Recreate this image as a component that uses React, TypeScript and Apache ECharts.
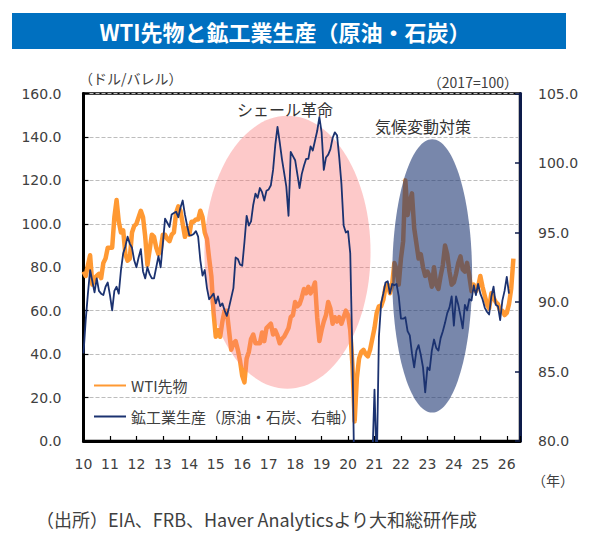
import React, { useEffect, useRef } from "react";
import * as echarts from "echarts";

// ---- data (monthly, starting Jan 2010) ----
const START_YEAR = 2010;

// WTI futures (USD/barrel), left axis
const wti = [
  78, 76, 81, 85.5, 72, 75, 76, 77, 75, 82, 84, 89,
  89, 89, 103, 111, 101, 96, 97, 86, 83, 84, 96, 99,
  100, 103, 106, 103, 94, 81, 88, 95, 94, 89, 86, 88,
  95, 95, 93, 92, 95, 96, 105, 108, 106, 100, 94, 98,
  95, 101, 101, 102, 102, 106, 103, 96, 93, 84, 76, 59,
  48, 51, 48, 55, 60, 60, 51, 42, 45, 46, 42, 37,
  30, 27, 38, 41, 47, 49, 45, 45, 45, 50, 46, 52,
  53, 54, 49, 51, 48.5, 45, 47, 48, 50, 52, 57, 58,
  64, 62, 63, 66, 70, 68, 71, 68, 70, 73, 57, 46,
  51, 55, 58, 64, 61, 54, 57, 55, 57, 54, 57, 60,
  58, 51, 35, 9, 29, 38, 41, 42, 40, 39, 42, 47,
  52, 59, 62, 62, 65, 71, 72, 68, 72, 82, 79, 72,
  84, 92, 120, 104, 110, 114, 98, 91, 84, 86, 80, 76,
  78, 76, 71, 80, 72, 70, 76, 81, 90, 86, 78, 72,
  73, 77, 82, 85, 79, 78, 82, 76, 69, 72, 69, 71,
  76, 71, 67, 63, 61, 68, 66, 64, 63, 60, 60, 58,
  59, 63, 70, 84,
];

// Industrial production: crude oil & coal (2017=100), right axis
const mining = [
  86.3, 88.7, 90.6, 92.3, 91.5, 90.7, 91.7, 90.8, 90.6, 90.5, 91.1, 91.4,
  90.5, 89.4, 90.8, 91.1, 90.6, 92.3, 93.5, 94.0, 94.7, 94.2, 93.9, 93.0,
  92.5, 93.2, 93.8, 92.2, 91.7, 92.5, 92.0, 91.7, 91.7, 92.5, 93.3, 92.5,
  94.2, 96.0, 95.7, 95.4, 96.3, 96.4, 96.5, 96.1, 96.8, 97.3, 96.3, 95.5,
  94.8, 94.8, 94.9, 95.1, 94.7, 93.0, 91.9, 92.3, 91.0, 90.2, 90.4, 90.6,
  89.9, 90.4, 89.7, 89.9, 89.4, 89.0, 89.6, 90.3, 91.0, 93.2, 93.1, 92.7,
  92.6, 94.3, 96.2, 95.5, 95.8, 97.0, 97.8, 97.5, 98.2, 97.9, 97.3, 98.0,
  98.1, 98.4, 99.5, 101.3, 102.6, 101.5, 100.3, 99.3, 98.3, 96.2, 100.8, 100.5,
  100.2, 99.2, 98.2, 99.2, 99.8, 100.3, 100.3, 101.2, 100.9, 101.6, 102.3, 103.3,
  102.2, 99.5, 100.4, 100.6, 101.0, 101.8, 102.2, 102.0, 100.4, 98.5, 95.5, 95.0,
  95.1, 93.5, 86.0, 76.0, 72.0, 71.0, 73.0, 74.0, 75.0, 76.0, 77.5, 78.5,
  83.7, 78.0, 87.5, 89.9, 90.6, 91.4, 91.5, 90.6, 91.3, 91.2, 91.3, 90.4,
  88.8, 88.8, 88.9, 87.9, 87.6, 86.3, 85.3, 86.5, 86.9, 86.2, 85.3, 83.5,
  85.3, 85.1, 86.5, 87.3, 86.7, 86.5, 87.4, 87.9, 88.5, 89.2, 89.6, 90.4,
  88.3, 90.4, 89.8, 89.0, 88.1, 89.8, 89.4, 90.2, 90.1, 91.2, 90.5, 91.3,
  90.6, 90.2, 89.6, 89.3, 89.1, 90.4, 91.1, 89.8, 89.7, 88.7, 90.1, 90.8,
  91.8, 90.6,
];

const yearLabels = ["10", "11", "12", "13", "14", "15", "16", "17", "18", "19", "20", "21", "22", "23", "24", "25", "26"];

const seriesNames = ["WTI先物", "鉱工業生産（原油・石炭、右軸）"];

// highlighted periods: [centre year, centre value (left axis), half-width in years, half-height in value]
const periods = [
  { label: "シェール革命", ellipse: [2017.71, 86.9, 3.14, 62.8], fill: "rgba(250,120,120,0.4)" },
  { label: "気候変動対策", ellipse: [2023.18, 76.0, 1.51, 62.9], fill: "rgba(30,55,115,0.6)" },
];

const FONT_JP = '"Noto Sans CJK JP", "Noto Sans", sans-serif';
const FONT_NUM = '"DejaVu Sans", Verdana, sans-serif';
const TEXT = "#404040";
const ORANGE = "#ff9933";
const NAVY = "#1b3270";

export default function App() {
  const ref = useRef<HTMLDivElement>(null);

  useEffect(() => {
    const chart = echarts.init(ref.current as HTMLDivElement, null, { renderer: "svg" });
    const toPairs = (arr: number[]) => arr.map((v, i) => [START_YEAR + i / 12, v]);

    chart.setOption({
      animation: false,
      grid: {
        left: 83.5,
        right: 75,
        top: 93.5,
        bottom: 94,
        show: true,
        borderColor: "#000",
        borderWidth: 2.5,
        backgroundColor: "transparent",
      },
      legend: {
        left: 88,
        top: 373,
        orient: "vertical",
        itemWidth: 32,
        itemHeight: 14,
        itemGap: 16,
        data: seriesNames,
        itemStyle: { opacity: 0 },
        textStyle: { fontFamily: FONT_JP, fontSize: 15, color: TEXT },
      },
      xAxis: {
        type: "value",
        min: 2010,
        max: 2026.5,
        interval: 1,
        axisLine: { show: true, onZero: false, lineStyle: { color: "#000", width: 3 } },
        axisTick: { show: true, inside: true, length: 5, lineStyle: { color: "#000", width: 1.2 } },
        splitLine: { show: false },
        axisLabel: {
          margin: 16,
          fontFamily: FONT_NUM,
          fontSize: 14,
          color: TEXT,
          formatter: (v: number) => (Number.isInteger(v) ? yearLabels[v - START_YEAR] ?? "" : ""),
        },
      },
      yAxis: [
        {
          type: "value",
          min: 0,
          max: 160,
          interval: 20,
          axisLine: { show: true, lineStyle: { color: "#000", width: 3 } },
          axisTick: { show: true, inside: true, length: 5, lineStyle: { color: "#000", width: 1.2 } },
          splitLine: { show: true, lineStyle: { color: "#bdbdbd", type: "dashed", width: 1 } },
          axisLabel: {
            margin: 22,
            fontFamily: FONT_NUM,
            fontSize: 14,
            color: TEXT,
            formatter: (v: number) => v.toFixed(1),
          },
        },
        {
          type: "value",
          position: "right",
          min: 80,
          max: 105,
          interval: 5,
          axisLine: { show: true, lineStyle: { color: "#0d1b4a", width: 3 } },
          axisTick: { show: true, inside: true, length: 5, lineStyle: { color: "#0d1b4a", width: 1.5 } },
          splitLine: { show: false },
          axisLabel: {
            margin: 18,
            fontFamily: FONT_NUM,
            fontSize: 14,
            color: TEXT,
            formatter: (v: number) => v.toFixed(1),
          },
        },
      ],
      series: [
        {
          type: "line",
          name: seriesNames[0],
          data: toPairs(wti),
          yAxisIndex: 0,
          symbol: "none",
          lineStyle: { color: ORANGE, width: 4.5, join: "round" },
          itemStyle: { color: ORANGE },
          z: 2,
        },
        {
          type: "custom",
          name: "periods",
          xAxisIndex: 0,
          yAxisIndex: 0,
          silent: true,
          clip: false,
          z: 3,
          data: periods.map((p) => p.ellipse),
          renderItem: (params: any, api: any) => {
            const cx = api.value(0);
            const cy = api.value(1);
            const c = api.coord([cx, cy]);
            const s = api.size([api.value(2), api.value(3)], [cx, cy]);
            return {
              type: "ellipse",
              shape: { cx: c[0], cy: c[1], rx: s[0], ry: s[1] },
              style: { fill: periods[params.dataIndex].fill },
            };
          },
        },
        {
          type: "line",
          name: seriesNames[1],
          data: toPairs(mining),
          yAxisIndex: 1,
          symbol: "none",
          lineStyle: { color: NAVY, width: 1.8, join: "round" },
          itemStyle: { color: NAVY },
          z: 4,
        },
      ],
      graphic: [
        { type: "rect", shape: { x: 12, y: 13, width: 554, height: 36 }, style: { fill: "#0070c0" }, z: 10 },
        {
          type: "text",
          x: 285,
          y: 31,
          z: 11,
          style: {
            text: "WTI先物と鉱工業生産（原油・石炭）",
            fill: "#fff",
            fontFamily: FONT_JP,
            fontWeight: "bold",
            fontSize: 22,
            textAlign: "center",
            textVerticalAlign: "middle",
          },
        },
        {
          type: "text",
          x: 79,
          y: 78,
          z: 11,
          style: { text: "（ドル/バレル）", fill: TEXT, fontFamily: FONT_JP, fontSize: 14, textAlign: "left", textVerticalAlign: "middle" },
        },
        {
          type: "text",
          x: 518,
          y: 82,
          z: 11,
          style: { text: "（2017=100）", fill: TEXT, fontFamily: FONT_JP, fontSize: 14, textAlign: "right", textVerticalAlign: "middle" },
        },
        {
          type: "text",
          x: 285,
          y: 109,
          z: 11,
          style: { text: periods[0].label, fill: "#333", fontFamily: FONT_JP, fontSize: 16, textAlign: "center", textVerticalAlign: "middle" },
        },
        {
          type: "text",
          x: 423,
          y: 126,
          z: 11,
          style: { text: periods[1].label, fill: "#333", fontFamily: FONT_JP, fontSize: 16, textAlign: "center", textVerticalAlign: "middle" },
        },
        {
          type: "text",
          x: 553,
          y: 480,
          z: 11,
          style: { text: "（年）", fill: TEXT, fontFamily: FONT_JP, fontSize: 14, textAlign: "center", textVerticalAlign: "middle" },
        },
        {
          type: "text",
          x: 36,
          y: 519,
          z: 11,
          style: {
            text: "（出所）EIA、FRB、Haver Analyticsより大和総研作成",
            fill: TEXT,
            fontFamily: FONT_JP,
            fontSize: 18,
            textAlign: "left",
            textVerticalAlign: "middle",
          },
        },
      ],
    });

    return () => chart.dispose();
  }, []);

  return <div ref={ref} style={{ position: "absolute", left: 0, top: 0, width: 595, height: 535 }} />;
}
